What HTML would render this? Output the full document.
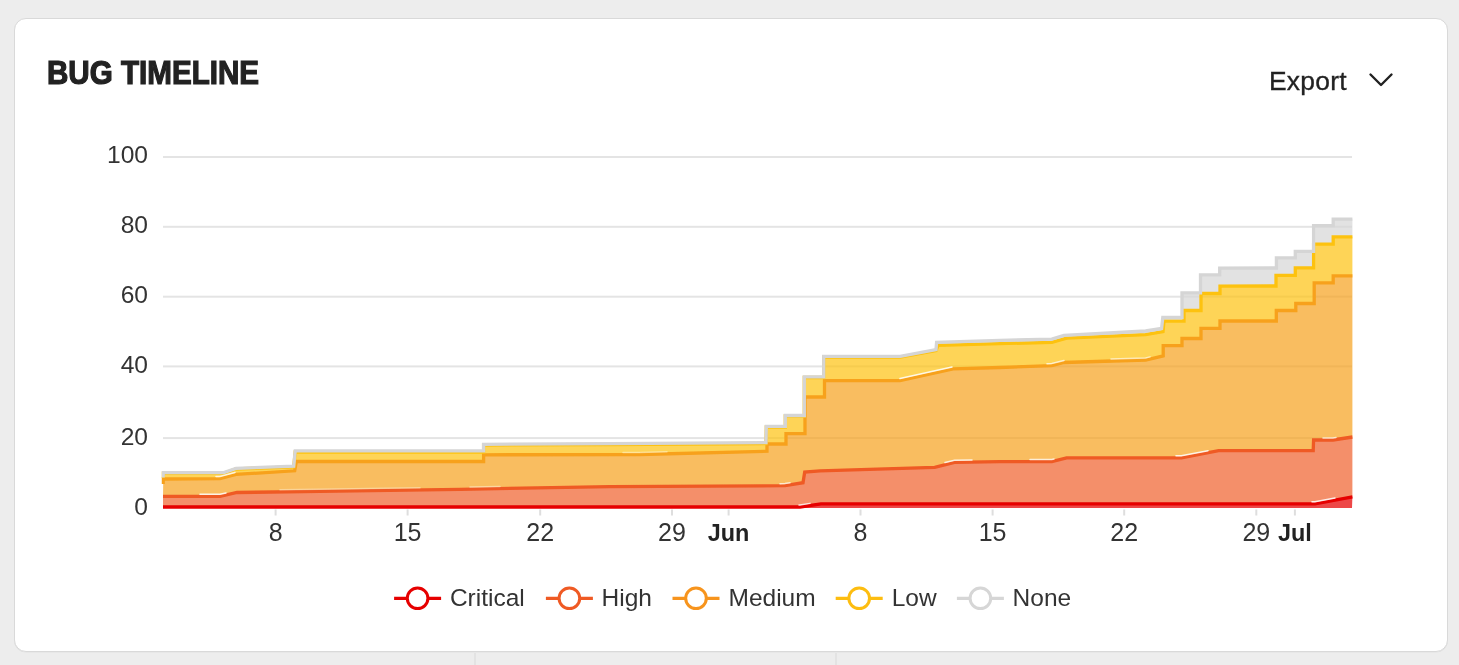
<!DOCTYPE html>
<html><head><meta charset="utf-8"><title>Bug Timeline</title>
<style>
html,body{margin:0;padding:0;width:1459px;height:665px;overflow:hidden;background:#ededed;}
body{position:relative;font-family:"Liberation Sans",sans-serif;}
.card{position:absolute;left:14px;top:18px;width:1431.5px;height:631.8px;background:#fff;border:1px solid #d9d9d9;border-radius:12px;box-shadow:0 0.5px 0.5px rgba(0,0,0,0.05);}
.vl{position:absolute;top:652.5px;width:2px;height:13px;background:#e3e3e3;}
.title{position:absolute;left:46.7px;top:58.3px;font-weight:bold;font-size:29.6px;color:#222;letter-spacing:0px;-webkit-text-stroke:1.1px #222;transform-origin:0 100%;transform:scaleY(1.1);white-space:nowrap;line-height:34px;}
.export{position:absolute;left:1268.6px;top:65.8px;font-size:26.4px;-webkit-text-stroke:0.35px #222;letter-spacing:0.25px;color:#222;line-height:30px;white-space:nowrap;}
svg{position:absolute;left:0;top:0;will-change:transform;}
.title,.export{will-change:transform;}
.yl{font-size:24.6px;fill:#333;}
.xl{font-size:25px;fill:#333;}
.xl.b{font-size:23.4px;font-weight:bold;fill:#222;}
.lg{font-size:24.5px;fill:#333;}
</style></head><body>
<div class="card"></div>
<div class="vl" style="left:474px"></div>
<div class="vl" style="left:834.5px"></div>
<div class="title">BUG TIMELINE</div>
<div class="export">Export</div>
<svg width="1459" height="665" viewBox="0 0 1459 665">
<polyline points="1370.5,74.5 1381,85 1391.5,74.5" fill="none" stroke="#222" stroke-width="2.4" stroke-linecap="round" stroke-linejoin="round"/>
<rect x="163" y="156" width="1189" height="2" fill="#e4e4e4"/>
<rect x="163" y="225.8" width="1189" height="2" fill="#e4e4e4"/>
<rect x="163" y="295.7" width="1189" height="2" fill="#e4e4e4"/>
<rect x="163" y="365.4" width="1189" height="2" fill="#e4e4e4"/>
<rect x="163" y="437.1" width="1189" height="2" fill="#e4e4e4"/>
<defs><clipPath id="pc"><rect x="161.5" y="100" width="1191.3" height="412"/></clipPath></defs><g clip-path="url(#pc)">
<polygon points="163,507 800,507 821,503.8 1315,503.9 1352.5,496.8 1352,508 163,508" fill="#e60000" fill-opacity="0.72"/>
<polygon points="163,496.4 220,496.4 237,492.5 320,491.3 460,489.3 610,486.6 785,485.7 803,482.7 804.7,472.1 820,470.8 934.7,467.3 954.5,462.3 1000,461.7 1051.8,461.6 1066.6,457.9 1181.4,457.9 1218.6,450.7 1313.2,450.7 1313.6,440 1333,440 1352.5,437 1352.5,496.8 1315,503.9 821,503.8 800,507 163,507" fill="#ef5a24" fill-opacity="0.68"/>
<polygon points="163.2,484 163.2,479 220,478.6 236,474.4 294.7,470.8 296.3,461.5 483.6,461.5 483.6,454.8 640,454.5 767,451.2 767,444 786,444 786,433.7 805,433.7 805,397 824.5,397 824.5,380.7 900,380.6 953,368.9 1000,367.5 1051.8,365.6 1064,362.5 1145.6,360 1163.2,355.9 1163.2,345.7 1182,345.7 1182,338.5 1201,338.5 1201,328.3 1220,328.3 1220,321 1276.3,321 1276.3,310.5 1295.8,310.5 1295.8,303.5 1314.2,303.5 1314.2,282.8 1333.2,282.8 1333.2,275.8 1352.5,275.8 1352.5,437 1333,440 1313.6,440 1313.2,450.7 1218.6,450.7 1181.4,457.9 1066.6,457.9 1051.8,461.6 1000,461.7 954.5,462.3 934.7,467.3 820,470.8 804.7,472.1 803,482.7 785,485.7 610,486.6 460,489.3 320,491.3 237,492.5 220,496.4 163,496.4" fill="#f7a11c" fill-opacity="0.7"/>
<polygon points="163.2,478 163.2,473.2 223.8,473.2 236,469 293.7,466.8 295.2,452 483.6,452 483.6,445 610,444.5 766,443.5 766.3,427 785.3,427 785.3,416 804.3,416 804.3,377.5 823.7,377.5 823.7,357 900.2,357 936,350.5 938,345.4 1000,343.6 1051.8,342.4 1066.6,338.2 1145.6,334.7 1163,331.7 1164,321.2 1184,321.2 1184,310.5 1201,310.5 1201,293.5 1220,293.5 1220,286.2 1276,286 1276,275.4 1295.3,275.4 1295.3,267.9 1313.6,267.9 1313.6,244.2 1333.2,244.2 1333.2,236.8 1352.5,236.8 1352.5,275.8 1333.2,275.8 1333.2,282.8 1314.2,282.8 1314.2,303.5 1295.8,303.5 1295.8,310.5 1276.3,310.5 1276.3,321 1220,321 1220,328.3 1201,328.3 1201,338.5 1182,338.5 1182,345.7 1163.2,345.7 1163.2,355.9 1145.6,360 1064,362.5 1051.8,365.6 1000,367.5 953,368.9 900,380.6 824.5,380.7 824.5,397 805,397 805,433.7 786,433.7 786,444 767,444 767,451.2 640,454.5 483.6,454.8 483.6,461.5 296.3,461.5 294.7,470.8 236,474.4 220,478.6 163.2,479 163.2,484" fill="#fdc20f" fill-opacity="0.7"/>
<polygon points="163.2,477.5 163.2,472.6 223.8,472.6 236,468.4 293.7,466.2 295.2,450.9 483.6,450.9 483.6,444.3 610,443.7 766,442.6 766.3,426.3 785.3,426.3 785.3,415.5 804.3,415.5 804.3,376.8 823.7,376.8 823.7,356.4 900.2,356.4 936,349.7 936.6,342.3 1000,340.4 1051.8,339.1 1064,335.4 1145.6,331 1161.6,328.5 1162.8,317.5 1182,317.5 1182,292.9 1200.5,292.9 1200.5,274.8 1219.7,274.8 1219.7,268.2 1276.4,268 1276.4,257.8 1295.3,257.8 1295.3,251.3 1313.6,251.3 1313.6,225.6 1333.2,225.6 1333.2,219.2 1352.5,219.2 1352.5,236.8 1333.2,236.8 1333.2,244.2 1313.6,244.2 1313.6,267.9 1295.3,267.9 1295.3,275.4 1276,275.4 1276,286 1220,286.2 1220,293.5 1201,293.5 1201,310.5 1184,310.5 1184,321.2 1164,321.2 1163,331.7 1145.6,334.7 1066.6,338.2 1051.8,342.4 1000,343.6 938,345.4 936,350.5 900.2,357 823.7,357 823.7,377.5 804.3,377.5 804.3,416 785.3,416 785.3,427 766.3,427 766,443.5 610,444.5 483.6,445 483.6,452 295.2,452 293.7,466.8 236,469 223.8,473.2 163.2,473.2 163.2,478" fill="#d5d5d5" fill-opacity="0.7"/>
<polyline points="163,507 800,507 821,503.8 1315,503.9 1352.5,496.8" fill="none" stroke="#e60000" stroke-width="3.3" stroke-linejoin="miter" stroke-linecap="butt"/>
<polyline points="163,496.4 220,496.4 237,492.5 320,491.3 460,489.3 610,486.6 785,485.7 803,482.7 804.7,472.1 820,470.8 934.7,467.3 954.5,462.3 1000,461.7 1051.8,461.6 1066.6,457.9 1181.4,457.9 1218.6,450.7 1313.2,450.7 1313.6,440 1333,440 1352.5,437" fill="none" stroke="#ef5a24" stroke-width="3.3" stroke-linejoin="miter" stroke-linecap="butt"/>
<polyline points="163.2,484 163.2,479 220,478.6 236,474.4 294.7,470.8 296.3,461.5 483.6,461.5 483.6,454.8 640,454.5 767,451.2 767,444 786,444 786,433.7 805,433.7 805,397 824.5,397 824.5,380.7 900,380.6 953,368.9 1000,367.5 1051.8,365.6 1064,362.5 1145.6,360 1163.2,355.9 1163.2,345.7 1182,345.7 1182,338.5 1201,338.5 1201,328.3 1220,328.3 1220,321 1276.3,321 1276.3,310.5 1295.8,310.5 1295.8,303.5 1314.2,303.5 1314.2,282.8 1333.2,282.8 1333.2,275.8 1352.5,275.8" fill="none" stroke="#f7a11c" stroke-width="3.3" stroke-linejoin="miter" stroke-linecap="butt"/>
<polyline points="163.2,478 163.2,473.2 223.8,473.2 236,469 293.7,466.8 295.2,452 483.6,452 483.6,445 610,444.5 766,443.5 766.3,427 785.3,427 785.3,416 804.3,416 804.3,377.5 823.7,377.5 823.7,357 900.2,357 936,350.5 938,345.4 1000,343.6 1051.8,342.4 1066.6,338.2 1145.6,334.7 1163,331.7 1164,321.2 1184,321.2 1184,310.5 1201,310.5 1201,293.5 1220,293.5 1220,286.2 1276,286 1276,275.4 1295.3,275.4 1295.3,267.9 1313.6,267.9 1313.6,244.2 1333.2,244.2 1333.2,236.8 1352.5,236.8" fill="none" stroke="#fdc20f" stroke-width="3.3" stroke-linejoin="miter" stroke-linecap="butt"/>
<polyline points="163.2,477.5 163.2,472.6 223.8,472.6 236,468.4 293.7,466.2 295.2,450.9 483.6,450.9 483.6,444.3 610,443.7 766,442.6 766.3,426.3 785.3,426.3 785.3,415.5 804.3,415.5 804.3,376.8 823.7,376.8 823.7,356.4 900.2,356.4 936,349.7 936.6,342.3 1000,340.4 1051.8,339.1 1064,335.4 1145.6,331 1161.6,328.5 1162.8,317.5 1182,317.5 1182,292.9 1200.5,292.9 1200.5,274.8 1219.7,274.8 1219.7,268.2 1276.4,268 1276.4,257.8 1295.3,257.8 1295.3,251.3 1313.6,251.3 1313.6,225.6 1333.2,225.6 1333.2,219.2 1352.5,219.2" fill="none" stroke="#d5d5d5" stroke-width="3.3" stroke-linejoin="miter" stroke-linecap="butt"/>
<polyline points="200,494.3 220,494.3 226,492.924" fill="none" stroke="#fff" stroke-opacity="0.85" stroke-width="1.5" stroke-linecap="round"/>
<polyline points="280,489.778 320,489.2 420,487.771" fill="none" stroke="#fff" stroke-opacity="0.35" stroke-width="1.5" stroke-linecap="round"/>
<polyline points="470,487.02 500,486.48" fill="none" stroke="#fff" stroke-opacity="0.4" stroke-width="1.5" stroke-linecap="round"/>
<polyline points="780,483.626 785,483.6 790,482.767" fill="none" stroke="#fff" stroke-opacity="0.7" stroke-width="1.5" stroke-linecap="round"/>
<polyline points="945,462.599 954.5,460.2 972,459.969" fill="none" stroke="#fff" stroke-opacity="0.8" stroke-width="1.5" stroke-linecap="round"/>
<polyline points="1030,459.542 1051.8,459.5 1054,458.95" fill="none" stroke="#fff" stroke-opacity="0.75" stroke-width="1.5" stroke-linecap="round"/>
<polyline points="1176,455.8 1181.4,455.8 1208,450.652" fill="none" stroke="#fff" stroke-opacity="0.85" stroke-width="1.5" stroke-linecap="round"/>
<polyline points="1323,437.9 1333,437.9 1336,437.438" fill="none" stroke="#fff" stroke-opacity="0.7" stroke-width="1.5" stroke-linecap="round"/>
<polyline points="799,504.9 800,504.9 810,503.376" fill="none" stroke="#fff" stroke-opacity="0.8" stroke-width="1.5" stroke-linecap="round"/>
<polyline points="1312,501.799 1315,501.8 1335,498.013" fill="none" stroke="#fff" stroke-opacity="0.85" stroke-width="1.5" stroke-linecap="round"/>
<polyline points="216,476.528 220,476.5 235,472.562" fill="none" stroke="#fff" stroke-opacity="0.8" stroke-width="1.5" stroke-linecap="round"/>
<polyline points="623,452.433 640,452.4 667,451.698" fill="none" stroke="#fff" stroke-opacity="0.4" stroke-width="1.5" stroke-linecap="round"/>
<polyline points="900,378.5 952,367.021" fill="none" stroke="#fff" stroke-opacity="0.85" stroke-width="1.5" stroke-linecap="round"/>
<polyline points="1047,363.676 1051.8,363.5 1064,360.4" fill="none" stroke="#fff" stroke-opacity="0.7" stroke-width="1.5" stroke-linecap="round"/>
<polyline points="1111,358.96 1145.6,357.9 1150,356.875" fill="none" stroke="#fff" stroke-opacity="0.6" stroke-width="1.5" stroke-linecap="round"/>
</g>
<rect x="274.6" y="509.5" width="2" height="6" fill="#dedede"/>
<rect x="406.6" y="509.5" width="2" height="6" fill="#dedede"/>
<rect x="539.2" y="509.5" width="2" height="6" fill="#dedede"/>
<rect x="671" y="509.5" width="2" height="6" fill="#dedede"/>
<rect x="727.6" y="509.5" width="2" height="6" fill="#dedede"/>
<rect x="859.5" y="509.5" width="2" height="6" fill="#dedede"/>
<rect x="991.6" y="509.5" width="2" height="6" fill="#dedede"/>
<rect x="1123.2" y="509.5" width="2" height="6" fill="#dedede"/>
<rect x="1255.3" y="509.5" width="2" height="6" fill="#dedede"/>
<rect x="1293.9" y="509.5" width="2" height="6" fill="#dedede"/>
<text x="148" y="162.9" text-anchor="end" class="yl">100</text>
<text x="148" y="233" text-anchor="end" class="yl">80</text>
<text x="148" y="302.5" text-anchor="end" class="yl">60</text>
<text x="148" y="373.3" text-anchor="end" class="yl">40</text>
<text x="148" y="444.6" text-anchor="end" class="yl">20</text>
<text x="148" y="514.5" text-anchor="end" class="yl">0</text>
<text x="275.6" y="541.4" text-anchor="middle" class="xl">8</text>
<text x="407.6" y="541.4" text-anchor="middle" class="xl">15</text>
<text x="540.2" y="541.4" text-anchor="middle" class="xl">22</text>
<text x="672" y="541.4" text-anchor="middle" class="xl">29</text>
<text x="728.6" y="541.4" text-anchor="middle" class="xl b">Jun</text>
<text x="860.5" y="541.4" text-anchor="middle" class="xl">8</text>
<text x="992.6" y="541.4" text-anchor="middle" class="xl">15</text>
<text x="1124.2" y="541.4" text-anchor="middle" class="xl">22</text>
<text x="1256.3" y="541.4" text-anchor="middle" class="xl">29</text>
<text x="1294.9" y="541.4" text-anchor="middle" class="xl b">Jul</text>
<line x1="394.1" y1="598.3" x2="441.1" y2="598.3" stroke="#e60000" stroke-width="3.3"/>
<circle cx="417.6" cy="598.3" r="10.3" fill="#fff" stroke="#e60000" stroke-width="3"/>
<text x="449.9" y="605.7" class="lg">Critical</text>
<line x1="545.9" y1="598.3" x2="592.9" y2="598.3" stroke="#ef5a24" stroke-width="3.3"/>
<circle cx="569.4" cy="598.3" r="10.3" fill="#fff" stroke="#ef5a24" stroke-width="3"/>
<text x="601.5" y="605.7" class="lg">High</text>
<line x1="672.5" y1="598.3" x2="719.5" y2="598.3" stroke="#f7941d" stroke-width="3.3"/>
<circle cx="696" cy="598.3" r="10.3" fill="#fff" stroke="#f7941d" stroke-width="3"/>
<text x="728.5" y="605.7" class="lg">Medium</text>
<line x1="835.7" y1="598.3" x2="882.7" y2="598.3" stroke="#fdbd10" stroke-width="3.3"/>
<circle cx="859.2" cy="598.3" r="10.3" fill="#fff" stroke="#fdbd10" stroke-width="3"/>
<text x="891.7" y="605.7" class="lg">Low</text>
<line x1="956.9" y1="598.3" x2="1003.9" y2="598.3" stroke="#d6d6d6" stroke-width="3.3"/>
<circle cx="980.4" cy="598.3" r="10.3" fill="#fff" stroke="#d6d6d6" stroke-width="3"/>
<text x="1012.6" y="605.7" class="lg">None</text>
</svg>
</body></html>
